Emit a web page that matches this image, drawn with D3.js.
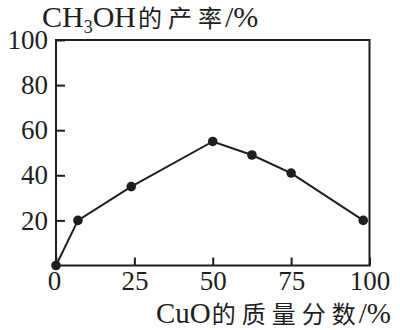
<!DOCTYPE html>
<html>
<head>
<meta charset="utf-8">
<script src="https://cdn.jsdelivr.net/npm/d3@7"></script>
<style>
  body { margin: 0; background: #fff; }
  svg { display: block; }
</style>
</head>
<body>
<div id="chart"></div>
<script>
// CuO mass fraction (%) vs CH3OH yield (%)
const cuoFraction = [0, 7, 24, 50, 62.5, 75, 98];
const methanolYield = [0, 20, 35, 55, 49, 41, 20];
const xTicks = [0, 25, 50, 75, 100];
const yTicks = [20, 40, 60, 80, 100];

const width = 400, height = 330;
const ink = "#1e1e1e";
const latin = "'Liberation Serif', 'DejaVu Serif', serif";
const cjk = "'Noto Sans CJK SC', sans-serif";

const svg = d3.select("#chart").append("svg")
    .attr("width", width)
    .attr("height", height);

const x = d3.scaleLinear().domain([0, 100]).range([56, 369.5]);
const y = d3.scaleLinear().domain([0, 100]).range([265.5, 40]);

// frame
svg.append("rect")
    .attr("x", x(0)).attr("y", y(100))
    .attr("width", x(100) - x(0)).attr("height", y(0) - y(100))
    .attr("fill", "none").attr("stroke", ink).attr("stroke-width", 2);

// axes, ticks pointing inward
const xAxis = svg.append("g")
    .attr("transform", `translate(0,${y(0)})`)
    .call(d3.axisBottom(x).tickValues(xTicks).tickSize(-8));
const yAxis = svg.append("g")
    .attr("transform", `translate(${x(0)},0)`)
    .call(d3.axisLeft(y).tickValues(yTicks).tickSize(-9).tickPadding(8));

[xAxis, yAxis].forEach(g => {
    g.select(".domain").remove();
    g.selectAll("line").attr("stroke", ink).attr("stroke-width", 2);
    g.selectAll("text")
        .attr("fill", ink)
        .style("font-family", latin)
        .style("font-size", "27px");
});
xAxis.selectAll(".tick text").attr("dy", "0.71em").attr("y", 5.5);
xAxis.selectAll(".tick text").filter(d => d === 0).attr("x", -2);

// line and markers
const pts = cuoFraction.map((v, i) => [v, methanolYield[i]]);
svg.append("path")
    .datum(pts)
    .attr("fill", "none")
    .attr("stroke", ink)
    .attr("stroke-width", 2)
    .attr("d", d3.line().x(d => x(d[0])).y(d => y(d[1])));

svg.selectAll("circle.pt")
    .data(pts)
    .enter().append("circle")
    .attr("class", "pt")
    .attr("cx", d => x(d[0]))
    .attr("cy", d => y(d[1]))
    .attr("r", 4.8)
    .attr("fill", ink);

// y title
const yt = svg.append("text")
    .attr("x", 42).attr("y", 27)
    .attr("fill", ink)
    .style("font-size", "30px");
yt.append("tspan").style("font-family", latin).text("CH");
yt.append("tspan").style("font-family", latin).style("font-size", "18px").attr("dy", 6).text("3");
yt.append("tspan").style("font-family", latin).attr("dy", -6).text("OH");
yt.append("tspan").style("font-family", cjk).style("font-size", "24px")
    .attr("dx", 2).style("letter-spacing", "6px").text("的产率");
yt.append("tspan").style("font-family", latin).attr("dx", -3).text("/%");

// x title
const xt = svg.append("text")
    .attr("x", 156).attr("y", 322.5)
    .attr("fill", ink)
    .style("font-size", "29px");
xt.append("tspan").style("font-family", latin).text("CuO");
xt.append("tspan").style("font-family", cjk).style("font-size", "24px")
    .attr("dx", 1).style("letter-spacing", "6px").text("的质量分数");
xt.append("tspan").style("font-family", latin).attr("dx", -3).text("/%");
</script>
</body>
</html>
